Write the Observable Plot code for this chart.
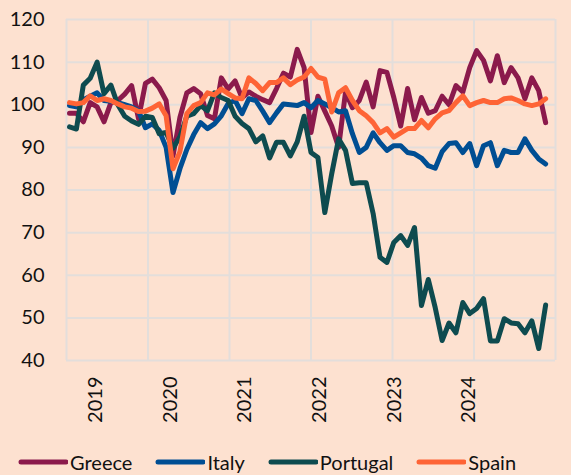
<!DOCTYPE html>
<html><head><meta charset="utf-8">
<script src="https://cdn.jsdelivr.net/npm/d3@7"></script>
<script src="https://cdn.jsdelivr.net/npm/@observablehq/plot@0.6"></script>
<style>
html,body{margin:0;padding:0;background:#fde1d0;}
#wrap{position:relative;width:571px;height:475px;background:#fde1d0;font-family:Lato,"Open Sans",sans-serif;overflow:hidden;}
#legend{position:absolute;left:18px;top:450px;display:flex;align-items:center;gap:23px;font-size:20px;color:#111;line-height:24px;}
.item{display:flex;align-items:center;gap:2px;}
</style></head><body><div id="wrap"><div id="chart"></div><div id="legend"></div></div>
<script>
const seriesNames = ["Greece", "Italy", "Portugal", "Spain"];
const seriesColors = ["#8b1a4c", "#004e93", "#0e4b4f", "#fe6436"];

// Monthly index values, Jan 2019 - Oct 2024
const greece = [98, 98, 96, 100.5, 99.5, 96, 100.5, 101, 102.5, 104.5,
  96.7, 105, 106, 104, 101, 88, 97, 102.8, 103.8, 102.6,
  97.5, 96.7, 106.3, 103.7, 105.6, 101.6, 103, 102, 101.2, 100.5,
  103.8, 107.4, 106.5, 113, 108.7, 93.5, 102, 98.5, 95, 90,
  103, 99.3, 101, 105.3, 99.5, 108, 107.6, 101.7, 95, 103.8,
  96.5, 101.7, 98, 98.6, 102, 100, 104.5, 103, 108.7, 112.7,
  110.4, 105.6, 111.5, 105.2, 108.7, 106.3, 101.4, 106.3, 103.3, 95.8];
const italy = [99.8, 99.5, 101.2, 102, 102.8, 101, 100.8, 100.5, 100, 99.5,
  98.6, 94.6, 95.5, 94, 90, 79.4, 85, 89.5, 93, 95.8,
  94.4, 95.5, 97.4, 100.3, 101, 97.9, 101.4, 101, 98.5, 95.8,
  98.1, 100.2, 100, 99.8, 100.5, 99.3, 101, 100.2, 99.3, 98.3,
  98.6, 93.2, 88.8, 90, 93.4, 91.1, 89.3, 90.4, 90.4, 88.8,
  88.5, 87.5, 85.7, 85.1, 89, 90.9, 91.1, 88.8, 90.9, 85.7,
  90.4, 91.1, 85.7, 89.3, 88.8, 88.8, 92, 89.3, 87.3, 86.1];
const portugal = [94.8, 94.3, 104.6, 106.2, 110, 102.6, 104.6, 100, 97.3, 96.2,
  95.4, 97.3, 97, 93.2, 93.5, 89.8, 92.5, 97.3, 97.9, 99.8,
  98.6, 102.8, 101.7, 101, 97.3, 95.6, 94.4, 91.3, 92.7, 87.5,
  91.2, 91.2, 88, 91.3, 97.3, 88.8, 87.6, 74.7, 83.8, 92,
  89.3, 81.5, 81.7, 81.7, 74.5, 64.2, 63, 67.7, 69.3, 67,
  71.2, 52.9, 59, 52.4, 44.7, 48.8, 46.5, 53.6, 51, 52.2,
  54.5, 44.6, 44.6, 49.8, 48.8, 48.6, 46.5, 49.3, 42.8, 53];
const spain = [100.5, 100.2, 100.5, 102.1, 101, 101.4, 101, 100.2, 99.5, 99.2,
  98.4, 98.5, 99.2, 100.2, 97.4, 85, 89, 97.9, 99.8, 100.5,
  102.8, 102.3, 103.7, 102.6, 101.6, 101.4, 106.3, 105, 103.3, 105.2,
  105.2, 106.3, 104.7, 105.8, 106.5, 108.5, 106.5, 106, 98.3, 102.8,
  104, 101, 98.6, 97.4, 95.8, 93.4, 94.4, 92.4, 93.4, 94.4,
  94.4, 96.3, 94.6, 96.7, 98.1, 98.6, 100.5, 102.1, 99.8, 100.5,
  101, 100.5, 100.5, 101.4, 101.6, 101, 100.2, 99.8, 100.2, 101.4];

const yearLabels = ["2019", "2020", "2021", "2022", "2023", "2024"];
const yearTickPos = [3.77, 14.64, 25.4, 36.2, 47.1, 57.8];
const yTicks = [40, 50, 60, 70, 80, 90, 100, 110, 120];

const months = d3.utcMonths(new Date(Date.UTC(2019, 0, 1)), new Date(Date.UTC(2024, 10, 1)));
const allSeries = [greece, italy, portugal, spain];
const rows = [];
seriesNames.forEach((name, k) => {
  allSeries[k].forEach((v, i) => rows.push({series: name, i, month: months[i], value: v}));
});

const xDomain = [-0.435, 70.43];
const gridX = d3.range(7).map(k => xDomain[0] + k * (xDomain[1] - xDomain[0]) / 6);
const labelByPos = new Map(yearTickPos.map((p, i) => [p, yearLabels[i]]));
const gridColor = "#e3dedb";

const chart = Plot.plot({
  width: 571, height: 430,
  marginLeft: 66, marginRight: 16, marginTop: 19, marginBottom: 70,
  style: {background: "transparent", fontFamily: "Lato, 'Open Sans', sans-serif", fontSize: "20px", color: "#111", overflow: "visible"},
  x: {domain: xDomain},
  y: {domain: [40, 120]},
  color: {domain: seriesNames, range: seriesColors},
  marks: [
    Plot.ruleY(yTicks, {stroke: gridColor, strokeWidth: 2}),
    Plot.ruleX(gridX, {stroke: gridColor, strokeWidth: 2}),
    Plot.axisY({ticks: yTicks, tickSize: 0, tickPadding: 22, fontSize: 20, label: null}),
    Plot.axisX({ticks: yearTickPos, tickFormat: d => labelByPos.get(d), tickRotate: -90, tickSize: 0, tickPadding: 16, fontSize: 20, label: null}),
    Plot.line(rows, {x: "i", y: "value", z: "series", stroke: "series", strokeWidth: 5, strokeLinejoin: "round", strokeLinecap: "round"})
  ]
});
document.getElementById("chart").appendChild(chart);

const legend = document.getElementById("legend");
seriesNames.forEach((name, k) => {
  const item = document.createElement("div");
  item.className = "item";
  item.innerHTML = `<svg width="50" height="10"><line x1="3" y1="5" x2="48" y2="5" stroke="${seriesColors[k]}" stroke-width="5" stroke-linecap="round"/></svg><span>${name}</span>`;
  legend.appendChild(item);
});
</script>
</body></html>
